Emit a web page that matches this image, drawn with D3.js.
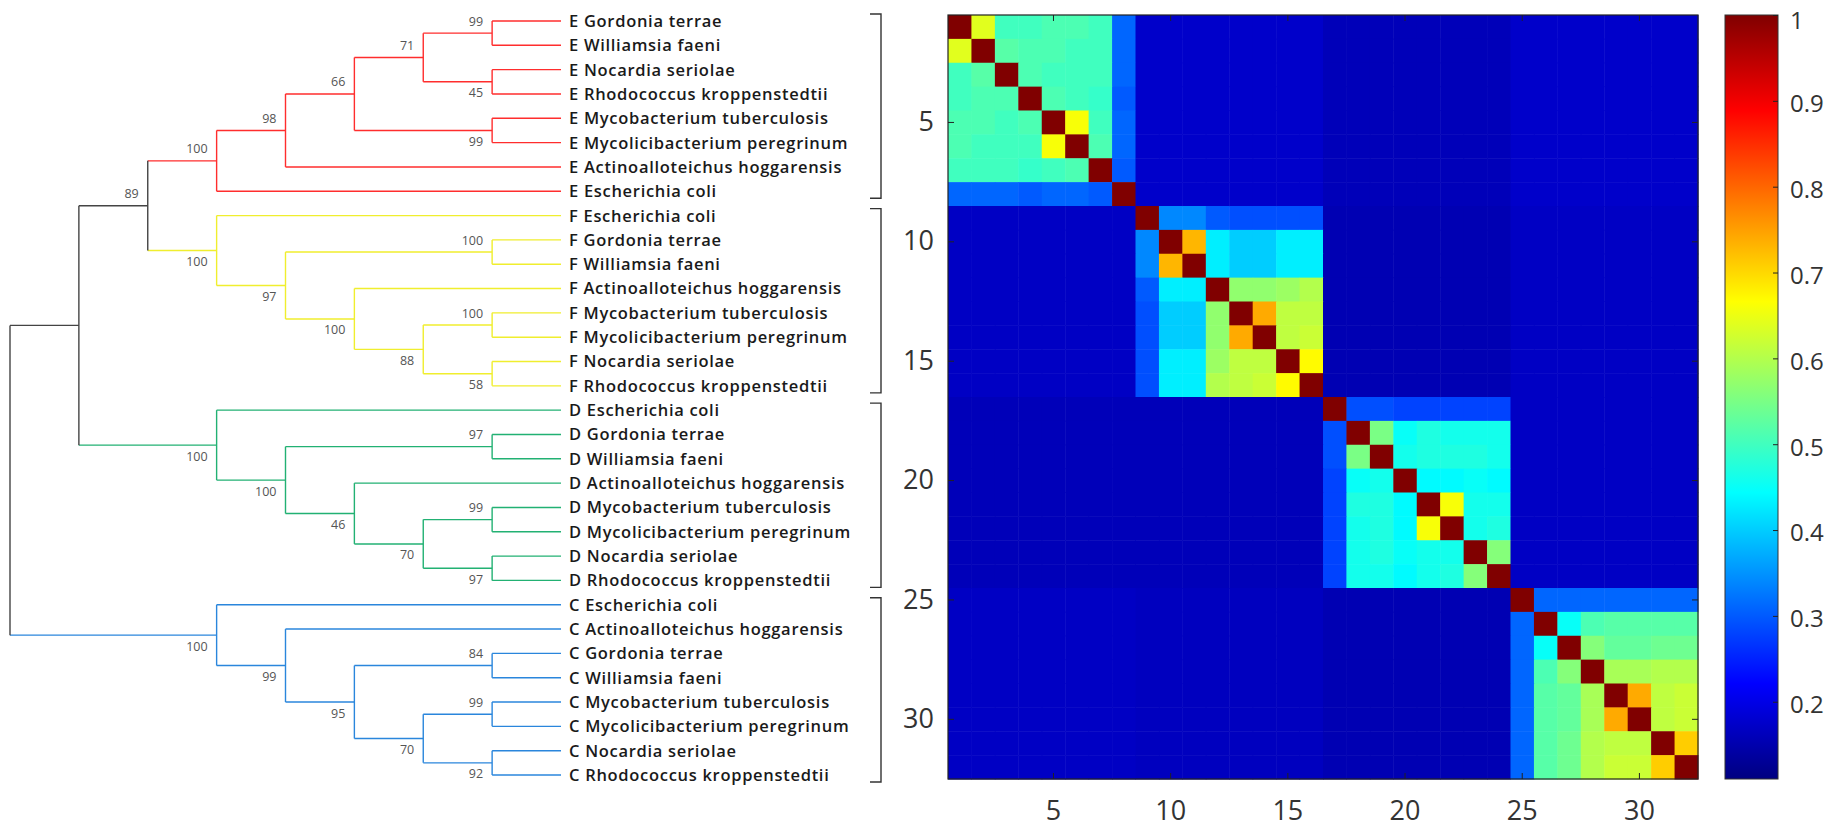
<!DOCTYPE html>
<html>
<head>
<meta charset="utf-8">
<script src="https://cdn.jsdelivr.net/npm/d3@7/dist/d3.min.js"></script>
<style>
    body { margin: 0; background: #fff; }
    svg { display: block; }
    .leaf-label { font-family: "Open Sans", sans-serif; font-size: 16.5px; font-weight: 600; letter-spacing: 0.7px; fill: #1a1a1a; }
    .boot-label { font-family: "Open Sans", sans-serif; font-size: 12.5px; fill: #555; }
    .hm-axis text { font-family: "Open Sans", sans-serif; font-size: 27px; fill: #333; }
    .cb-axis text { font-family: "Open Sans", sans-serif; font-size: 24px; fill: #333; }
</style>
</head>
<body>
<svg id="chart" width="1843" height="829"></svg>
<script>
// Gruppen und Farben
const groups = ['E', 'F', 'D', 'C'];
const groupColors = ['#ff2d2d', '#f0ee2e', '#22b173', '#2a86dc'];

// Teilbaeume (Newick, Bootstrap-Werte an den Knoten)
const treeE = '(((((E Gordonia terrae,E Williamsia faeni)99,(E Nocardia seriolae,E Rhodococcus kroppenstedtii)45)71,(E Mycobacterium tuberculosis,E Mycolicibacterium peregrinum)99)66,E Actinoalloteichus hoggarensis)98,E Escherichia coli)100';
const treeF = '(F Escherichia coli,((F Gordonia terrae,F Williamsia faeni)100,(F Actinoalloteichus hoggarensis,((F Mycobacterium tuberculosis,F Mycolicibacterium peregrinum)100,(F Nocardia seriolae,F Rhodococcus kroppenstedtii)58)88)100)97)100';
const treeD = '(D Escherichia coli,((D Gordonia terrae,D Williamsia faeni)97,(D Actinoalloteichus hoggarensis,((D Mycobacterium tuberculosis,D Mycolicibacterium peregrinum)99,(D Nocardia seriolae,D Rhodococcus kroppenstedtii)97)70)46)100)100';
const treeC = '(C Escherichia coli,(C Actinoalloteichus hoggarensis,((C Gordonia terrae,C Williamsia faeni)84,((C Mycobacterium tuberculosis,C Mycolicibacterium peregrinum)99,(C Nocardia seriolae,C Rhodococcus kroppenstedtii)92)70)95)99)100';
const treeNewick = '(((' + treeE + ',' + treeF + ')89,' + treeD + '),' + treeC + ')';

// Aehnlichkeitsmatrix: Bloecke innerhalb der Gruppen (Reihenfolge wie Blaetter)
const blockE = [
    [1.00, 0.64, 0.50, 0.50, 0.51, 0.51, 0.50, 0.31],
    [0.64, 1.00, 0.52, 0.51, 0.51, 0.50, 0.50, 0.31],
    [0.50, 0.52, 1.00, 0.51, 0.50, 0.50, 0.50, 0.31],
    [0.50, 0.51, 0.51, 1.00, 0.51, 0.50, 0.49, 0.30],
    [0.51, 0.51, 0.50, 0.51, 1.00, 0.66, 0.50, 0.31],
    [0.51, 0.50, 0.50, 0.50, 0.66, 1.00, 0.51, 0.31],
    [0.50, 0.50, 0.50, 0.49, 0.50, 0.51, 1.00, 0.30],
    [0.31, 0.31, 0.31, 0.30, 0.31, 0.31, 0.30, 1.00]
];
const blockF = [
    [1.00, 0.34, 0.34, 0.30, 0.29, 0.29, 0.29, 0.29],
    [0.34, 1.00, 0.73, 0.43, 0.40, 0.40, 0.43, 0.43],
    [0.34, 0.73, 1.00, 0.43, 0.40, 0.40, 0.43, 0.43],
    [0.30, 0.43, 0.43, 1.00, 0.57, 0.57, 0.58, 0.60],
    [0.29, 0.40, 0.40, 0.57, 1.00, 0.74, 0.61, 0.61],
    [0.29, 0.40, 0.40, 0.57, 0.74, 1.00, 0.61, 0.62],
    [0.29, 0.43, 0.43, 0.58, 0.61, 0.61, 1.00, 0.67],
    [0.29, 0.43, 0.43, 0.60, 0.61, 0.62, 0.67, 1.00]
];
const blockD = [
    [1.00, 0.29, 0.29, 0.28, 0.28, 0.28, 0.28, 0.28],
    [0.29, 1.00, 0.55, 0.45, 0.47, 0.46, 0.46, 0.46],
    [0.29, 0.55, 1.00, 0.46, 0.47, 0.47, 0.47, 0.46],
    [0.28, 0.45, 0.46, 1.00, 0.44, 0.44, 0.45, 0.44],
    [0.28, 0.47, 0.47, 0.44, 1.00, 0.66, 0.46, 0.46],
    [0.28, 0.46, 0.47, 0.44, 0.66, 1.00, 0.46, 0.47],
    [0.28, 0.46, 0.47, 0.45, 0.46, 0.46, 1.00, 0.56],
    [0.28, 0.46, 0.46, 0.44, 0.46, 0.47, 0.56, 1.00]
];
const blockC = [
    [1.00, 0.31, 0.31, 0.31, 0.31, 0.31, 0.31, 0.31],
    [0.31, 1.00, 0.45, 0.51, 0.52, 0.52, 0.52, 0.52],
    [0.31, 0.45, 1.00, 0.56, 0.53, 0.53, 0.54, 0.54],
    [0.31, 0.51, 0.56, 1.00, 0.59, 0.59, 0.60, 0.60],
    [0.31, 0.52, 0.53, 0.59, 1.00, 0.74, 0.61, 0.62],
    [0.31, 0.52, 0.53, 0.59, 0.74, 1.00, 0.61, 0.62],
    [0.31, 0.52, 0.54, 0.60, 0.61, 0.61, 1.00, 0.71],
    [0.31, 0.52, 0.54, 0.60, 0.62, 0.62, 0.71, 1.00]
];
// Werte zwischen den Gruppen (Zeile = Gruppe, Spalte = Gruppe)
const betweenGroups = [
    [null, 0.175, 0.16, 0.175],
    [0.17, null, 0.155, 0.17],
    [0.16, 0.16, null, 0.17],
    [0.17, 0.165, 0.155, null]
];

// Achsen / Farbskala
const hmTicks = [5, 10, 15, 20, 25, 30];
const cbTicks = [0.2, 0.3, 0.4, 0.5, 0.6, 0.7, 0.8, 0.9, 1];
const cMin = 0.11, cMax = 1;
const jetStops = [0, 0.125, 0.375, 0.625, 0.875, 1];
const jetColors = ['#000080', '#0000ff', '#00ffff', '#ffff00', '#ff0000', '#800000'];

// Newick einlesen
function parseNewick(s) {
    let i = 0;
    function node() {
        const n = {};
        if (s[i] === '(') {
            i++;
            n.children = [node()];
            while (s[i] === ',') { i++; n.children.push(node()); }
            i++; // ')'
        }
        const j = i;
        while (i < s.length && !',()'.includes(s[i])) i++;
        const lab = s.slice(j, i).trim();
        if (n.children) n.support = lab ? +lab : null;
        else n.name = lab;
        return n;
    }
    return node();
}

const svg = d3.select('#chart');

// ---------- Dendrogramm ----------
const root = d3.hierarchy(parseNewick(treeNewick));
const leaves = root.leaves();
const leafNames = leaves.map(d => d.data.name);

const yLeaf = d3.scalePoint().domain(leafNames).range([21, 775]);
const xTree = d3.scaleLinear().domain([0, root.height]).range([561, 10]);
const colorOf = g => g === null ? '#444' : groupColors[groups.indexOf(g)];

root.eachAfter(n => {
    if (n.children) {
        n.y = d3.mean(n.children, c => c.y);
        const gs = new Set(n.children.map(c => c.group));
        n.group = gs.size === 1 ? n.children[0].group : null;
    } else {
        n.y = yLeaf(n.data.name);
        n.group = n.data.name[0];
    }
    n.x = xTree(n.height);
});

const tree = svg.append('g').attr('class', 'tree');

// horizontale Aeste
tree.selectAll('.hbranch')
    .data(root.descendants().filter(n => n.parent))
    .enter()
    .append('line')
    .attr('x1', n => n.parent.x)
    .attr('x2', n => n.x)
    .attr('y1', n => n.y)
    .attr('y2', n => n.y)
    .style('stroke', n => colorOf(n.group))
    .style('stroke-width', 1.4);

// vertikale Verbinder
tree.selectAll('.vbranch')
    .data(root.descendants().filter(n => n.children))
    .enter()
    .append('line')
    .attr('x1', n => n.x)
    .attr('x2', n => n.x)
    .attr('y1', n => n.children[0].y)
    .attr('y2', n => n.children[n.children.length - 1].y)
    .style('stroke', n => colorOf(n.group))
    .style('stroke-width', 1.4);

// Blattbeschriftung
tree.selectAll('.leaf-label')
    .data(leaves)
    .enter()
    .append('text')
    .attr('class', 'leaf-label')
    .attr('x', 569)
    .attr('y', n => n.y)
    .attr('dy', '0.36em')
    .text(n => n.data.name);

// Bootstrap-Werte
tree.selectAll('.boot-label')
    .data(root.descendants().filter(n => n.children && n.data.support != null))
    .enter()
    .append('text')
    .attr('class', 'boot-label')
    .attr('text-anchor', 'end')
    .attr('x', n => n.x - 9)
    .attr('y', n => (n.parent && n.parent.children[0] === n) ? n.y - 7.5 : n.y + 15.5)
    .text(n => n.data.support);

// Klammern je Gruppe
tree.selectAll('.bracket')
    .data(groups)
    .enter()
    .append('path')
    .attr('d', g => {
        const ys = leaves.filter(n => n.group === g).map(n => n.y);
        const y0 = d3.min(ys) - 7, y1 = d3.max(ys) + 7;
        return `M870,${y0}H881V${y1}H870`;
    })
    .style('fill', 'none')
    .style('stroke', '#333')
    .style('stroke-width', 1.4);

// ---------- Heatmap ----------
const blocks = [blockE, blockF, blockD, blockC];
const n = leafNames.length;
const cells = [];
for (let r = 0; r < n; r++) {
    for (let c = 0; c < n; c++) {
        const gr = Math.floor(r / 8), gc = Math.floor(c / 8);
        const v = gr === gc ? blocks[gr][r % 8][c % 8] : betweenGroups[gr][gc];
        cells.push({ row: r + 1, col: c + 1, value: v });
    }
}

const idx = d3.range(1, n + 1);
const xHm = d3.scaleBand().domain(idx).range([948, 1698]);
const yHm = d3.scaleBand().domain(idx).range([15, 779]);
const jet = d3.scaleLinear()
    .domain(jetStops.map(t => cMin + t * (cMax - cMin)))
    .range(jetColors)
    .clamp(true);

const hm = svg.append('g').attr('class', 'heatmap');
hm.selectAll('.cell')
    .data(cells)
    .enter()
    .append('rect')
    .attr('x', d => xHm(d.col))
    .attr('y', d => yHm(d.row))
    .attr('width', xHm.bandwidth() + 0.5)
    .attr('height', yHm.bandwidth() + 0.5)
    .attr('fill', d => jet(d.value));

hm.append('rect')
    .attr('x', 948).attr('y', 15)
    .attr('width', 750).attr('height', 764)
    .style('fill', 'none')
    .style('stroke', '#222')
    .style('stroke-width', 1.2);

const axL = hm.append('g').attr('class', 'hm-axis')
    .attr('transform', 'translate(948,0)')
    .call(d3.axisLeft(yHm).tickValues(hmTicks).tickSize(-6).tickPadding(14));
const axB = hm.append('g').attr('class', 'hm-axis')
    .attr('transform', 'translate(0,779)')
    .call(d3.axisBottom(xHm).tickValues(hmTicks).tickSize(-6).tickPadding(22));
const axT = hm.append('g').attr('class', 'hm-axis')
    .attr('transform', 'translate(0,15)')
    .call(d3.axisTop(xHm).tickValues(hmTicks).tickSize(-6).tickFormat(''));
const axR = hm.append('g').attr('class', 'hm-axis')
    .attr('transform', 'translate(1698,0)')
    .call(d3.axisRight(yHm).tickValues(hmTicks).tickSize(-6).tickFormat(''));
[axL, axB, axT, axR].forEach(a => {
    a.select('.domain').remove();
    a.selectAll('line').style('stroke', '#222');
});

// ---------- Farbskala ----------
const defs = svg.append('defs');
const grad = defs.append('linearGradient')
    .attr('id', 'jet-grad')
    .attr('x1', 0).attr('y1', 1).attr('x2', 0).attr('y2', 0);
grad.selectAll('stop')
    .data(jetStops)
    .enter()
    .append('stop')
    .attr('offset', t => t)
    .attr('stop-color', (t, i) => jetColors[i]);

const yCb = d3.scaleLinear().domain([cMin, cMax]).range([779, 15]);
const cb = svg.append('g').attr('class', 'colorbar');
cb.append('rect')
    .attr('x', 1725).attr('y', 15)
    .attr('width', 53).attr('height', 764)
    .style('fill', 'url(#jet-grad)')
    .style('stroke', '#333')
    .style('stroke-width', 1);

const cbAxis = cb.append('g').attr('class', 'cb-axis')
    .attr('transform', 'translate(1778,0)')
    .call(d3.axisRight(yCb).tickValues(cbTicks).tickSize(-5).tickPadding(12)
        .tickFormat(d => d === 1 ? '1' : d3.format('.1f')(d)));
cbAxis.select('.domain').remove();
cbAxis.selectAll('line').style('stroke', '#222');
cbAxis.selectAll('text').attr('dy', d => d === 1 ? '0.55em' : '0.45em');
</script>
</body>
</html>
